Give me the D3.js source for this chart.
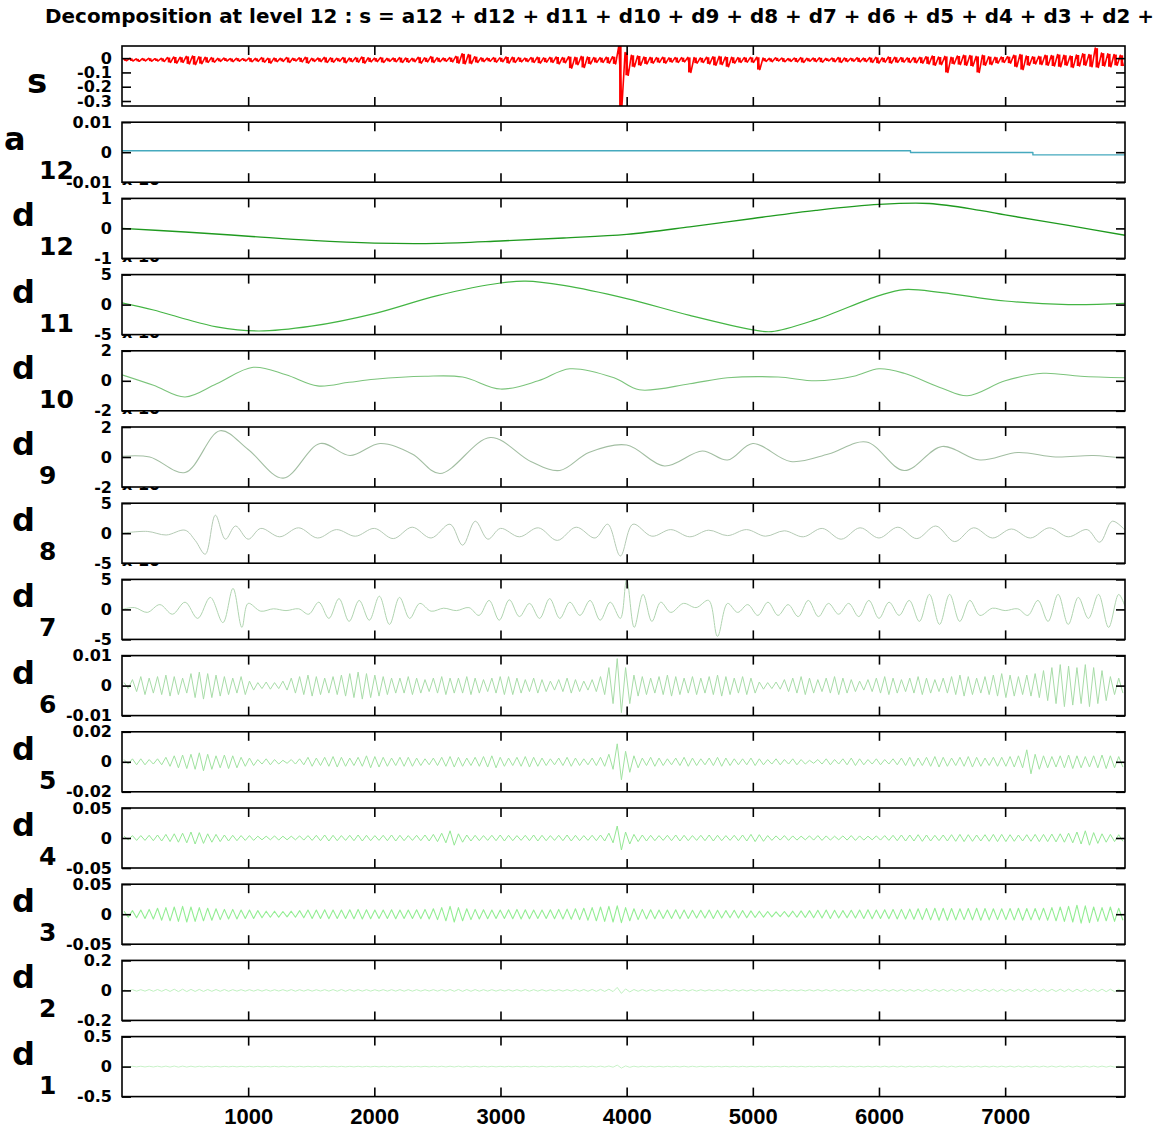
<!DOCTYPE html>
<html>
<head>
<meta charset="utf-8">
<script src="https://cdn.jsdelivr.net/npm/d3@7"></script>
<style>
  html, body { margin: 0; padding: 0; background: #ffffff; }
  svg { display: block; }
</style>
</head>
<body>
<svg id="chart" width="1154" height="1134"></svg>
<script>
// ---- data -------------------------------------------------------------
const titleText = "Decomposition at level 12 : s = a12 + d12 + d11 + d10 + d9 + d8 + d7 + d6 + d5 + d4 + d3 + d2 + d1";
const xTicks = [1000, 2000, 3000, 4000, 5000, 6000, 7000];
const xExtent = [0, 7950];

// signal s : upper / lower envelope per bin (160 bins)
const sHi = [
  -0.004,-0.002,-0.005,-0.003,-0.001,-0.004,-0.002,
  0.004,0.008,0.006,0.012,0.015,0.01,0.006,0.003,
  -0.002,0.0,-0.003,-0.001,-0.004,0.0,-0.002,
  0.003,-0.001,0.0,
  -0.002,0.004,-0.001,0.002,0.006,-0.002,0.0,0.005,0.002,-0.001,0.004,0.0,
  0.003,0.008,0.002,0.0,0.004,-0.002,0.0,0.003,0.001,-0.002,0.006,0.002,
  0.01,0.002,0.0,0.003,
  0.012,0.03,0.025,0.01,
  0.002,0.0,0.003,0.002,
  0.008,0.006,0.003,0.0,0.004,0.006,0.002,0.005,0.008,0.004,
  0.01,0.006,0.012,0.008,0.004,
  0.003,0.006,0.01,
  0.085,0.04,0.02,
  0.015,0.008,0.005,0.003,0.006,0.002,0.004,0.003,
  0.005,
  0.004,0.002,0.006,0.01,0.012,0.008,0.006,0.003,0.004,0.005,0.006,
  0.0,-0.002,0.002,0.0,-0.003,0.001,0.003,-0.001,0.0,0.002,-0.002,0.0,0.004,0.001,-0.001,0.002,0.0,0.003,0.005,0.002,
  0.008,0.006,0.004,0.002,0.004,0.006,
  0.01,0.015,0.008,0.012,0.006,
  0.015,0.02,0.018,0.012,0.02,0.01,
  0.006,0.008,0.01,
  0.02,0.025,0.015,
  0.01,0.012,
  0.02,0.018,0.025,0.02,0.015,0.022,0.03,0.025,0.07,0.035,0.03,0.025,0.02];
const sLo = [
  -0.018,-0.02,-0.022,-0.019,-0.021,-0.02,-0.023,
  -0.03,-0.035,-0.03,-0.04,-0.045,-0.038,-0.03,-0.028,
  -0.022,-0.02,-0.024,-0.021,-0.02,-0.025,-0.022,
  -0.028,-0.035,-0.024,
  -0.022,-0.03,-0.02,-0.026,-0.035,-0.022,-0.024,-0.03,-0.028,-0.022,-0.032,-0.025,
  -0.028,-0.035,-0.026,-0.024,-0.03,-0.022,-0.025,-0.03,-0.028,-0.024,-0.035,-0.026,
  -0.03,-0.025,-0.022,-0.026,
  -0.035,-0.04,-0.038,-0.03,
  -0.024,-0.022,-0.028,-0.025,
  -0.035,-0.03,-0.026,-0.024,-0.03,-0.035,-0.028,-0.03,-0.04,-0.032,
  -0.07,-0.045,-0.065,-0.04,-0.03,
  -0.03,-0.035,-0.04,
  -0.335,-0.12,-0.06,
  -0.05,-0.04,-0.035,-0.03,-0.035,-0.028,-0.03,-0.026,
  -0.1,
  -0.035,-0.03,-0.04,-0.05,-0.045,-0.06,-0.035,-0.03,-0.028,-0.03,-0.08,
  -0.022,-0.024,-0.02,-0.025,-0.022,-0.026,-0.03,-0.022,-0.024,-0.028,-0.02,-0.025,-0.03,-0.024,-0.022,-0.026,-0.024,-0.03,-0.035,-0.028,
  -0.035,-0.03,-0.028,-0.03,-0.032,-0.035,
  -0.04,-0.05,-0.045,-0.1,-0.04,
  -0.045,-0.05,-0.055,-0.1,-0.05,-0.045,
  -0.035,-0.03,-0.035,
  -0.06,-0.08,-0.05,
  -0.04,-0.045,
  -0.05,-0.055,-0.06,-0.05,-0.065,-0.055,-0.05,-0.06,-0.065,-0.055,-0.06,-0.05,-0.055];

// approximation a12 (step changes)
const a12X = [0, 6250, 7220, 7950];
const a12Y = [0.0005, -0.0001, -0.0009, -0.0009];

// smooth details d12 .. d9 (x 1e-3)
const d12X = [0,500,1000,1500,2000,2500,3000,3500,4000,4500,5000,5500,6000,6400,6800,7000,7500,7950];
const d12Y = [0.0,-0.12,-0.26,-0.4,-0.49,-0.5,-0.42,-0.32,-0.2,0.05,0.33,0.6,0.8,0.83,0.6,0.45,0.1,-0.23];

const d11X = [0,250,500,750,1080,1500,2000,2500,3000,3200,3500,4000,4500,5000,5150,5500,6000,6200,6500,7000,7500,7950];
const d11Y = [0.3,-0.9,-2.4,-3.7,-4.4,-3.6,-1.5,1.5,3.6,3.9,3.2,1.0,-1.8,-4.2,-4.5,-2.5,1.5,2.5,2.0,0.6,0.0,0.2];

const d10X = [0,250,500,750,1040,1300,1550,1800,2000,2400,2700,3000,3300,3550,3900,4100,4500,4800,5200,5500,5800,6000,6200,6500,6700,7000,7300,7600,7950];
const d10Y = [0.4,-0.3,-1.08,-0.2,0.9,0.4,-0.34,-0.1,0.1,0.3,0.25,-0.55,0.0,0.8,0.2,-0.6,-0.2,0.2,0.25,0.0,0.3,0.8,0.5,-0.5,-1.0,0.0,0.5,0.3,0.2];

const d9X = [0,220,500,777,1000,1277,1570,1808,2046,2300,2520,2920,3240,3470,3700,4000,4300,4600,4800,5000,5300,5600,5900,6200,6500,6800,7100,7400,7700,7950];
const d9Y = [0.05,0.0,-1.03,1.75,0.5,-1.41,0.9,0.1,0.9,0.2,-1.1,1.3,-0.3,-0.9,0.3,0.8,-0.6,0.4,-0.2,0.9,-0.3,0.2,1.0,-0.9,0.7,-0.2,0.3,0.0,0.1,-0.1];

// oscillating details d8, d7 (x 1e-3): successive extrema
const d8X = [0,200,350,500,580,660,740,820,900,1000,1100,1250,1400,1550,1700,1850,2000,2150,2300,2450,2600,2700,2800,2900,3000,3150,3300,3450,3600,3750,3850,3950,4050,4200,4350,4500,4650,4800,4950,5100,5250,5400,5550,5700,5850,6000,6150,6300,6450,6600,6750,6900,7050,7200,7350,7500,7650,7750,7850,7950];
const d8Y = [0,0.3,-0.3,0.5,-1.2,-3.5,3.0,-1.0,1.2,-1.0,0.8,-0.6,0.9,-0.8,0.6,-0.5,0.8,-0.9,1.0,-0.8,1.5,-2.0,2.0,-1.0,0.8,-0.6,0.9,-1.2,1.0,-0.8,1.5,-3.8,1.5,-0.5,0.6,-0.6,0.5,-0.4,0.6,-0.5,0.4,-0.6,0.8,-1.0,0.9,-0.8,1.0,-0.9,1.2,-1.4,0.9,-0.8,0.7,-0.8,0.9,-0.6,0.6,-1.5,2.0,0.5];

const d7X = [0,100,200,300,400,500,600,700,800,880,950,1000,
  1100,1200,1300,1400,
  1480,1560,1640,1720,1800,1880,1960,2040,2120,2200,2280,2360,
  2450,2550,2650,2750,
  2830,2910,2990,3070,3150,3230,3310,3390,3470,3550,3630,3710,3790,3870,
  3950,4000,4060,4130,4200,4270,
  4350,4450,4550,
  4650,4720,4800,4880,
  4960,5040,5120,5200,5280,5360,5440,5520,5600,5680,5760,5840,5920,6000,6080,6160,
  6240,6320,6400,6480,6560,6640,6720,6800,
  6900,7000,7100,
  7180,7260,7340,7420,7500,7580,7660,7740,7820,7900,7950];
const d7Y = [0,0.3,-0.5,0.8,-0.8,1.2,-1.5,2.0,-2.2,3.5,-3.0,1.0,
  -0.3,0.1,-0.2,0.1,
  -0.8,1.2,-1.5,1.8,-2.0,1.5,-1.8,2.2,-2.5,2.0,-1.5,1.0,
  -0.3,0.2,-0.2,0.3,
  -1.0,1.5,-1.8,1.6,-1.2,1.0,-1.5,1.8,-1.5,1.2,-1.0,1.5,-1.8,1.2,
  -1.5,5.0,-3.0,2.5,-2.0,1.2,
  -0.5,1.0,0.3,
  1.5,-4.5,1.0,-0.5,
  0.8,-1.0,1.2,-1.0,0.8,-1.2,1.5,-1.2,1.0,-0.8,1.0,-1.2,1.5,-1.5,1.2,-1.0,
  1.5,-2.0,2.5,-2.5,2.5,-2.0,1.5,-1.0,
  0.2,-0.2,0.1,
  -1.0,1.5,-2.0,2.5,-2.5,2.0,-1.5,2.5,-3.0,2.5,0.5];

// dense details d6 .. d1 : amplitude of the oscillation band per bin (120 bins)
const d6Amp = [
  0.001,0.002,0.003,0.0025,0.003,0.0035,0.003,0.0025,0.004,0.0045,0.004,0.0035,0.003,0.0025,0.003,
  0.0015,0.001,0.0012,0.001,0.0015,
  0.0025,0.003,0.0035,0.003,0.0025,0.003,0.0035,0.004,0.0045,0.004,0.0035,
  0.003,0.0025,0.0025,0.003,0.0025,0.002,0.0025,0.003,0.0025,0.0025,0.003,0.0025,0.002,0.0025,0.003,0.003,0.0025,0.002,0.0025,
  0.002,0.0015,0.002,0.0025,0.002,0.0015,0.002,0.003,
  0.006,0.009,0.006,
  0.0035,0.003,0.0025,0.003,0.0035,0.003,0.0025,0.003,0.0025,0.003,0.0035,0.003,0.0025,0.003,0.0025,
  0.0012,0.001,0.0012,
  0.002,0.0025,0.003,0.0025,0.002,0.0025,0.003,0.0025,0.002,0.0015,0.002,0.0025,0.003,0.0025,0.002,0.0025,0.003,0.0025,0.002,0.0025,
  0.003,0.0035,0.003,0.0025,0.003,0.0035,0.004,0.0035,0.003,0.0035,
  0.004,0.005,0.006,0.007,0.0065,0.006,0.007,0.006,0.005,
  0.003,0.0025];
const d5Amp = [
  0.0015,0.002,0.002,0.0015,0.002,
  0.003,0.004,0.0045,0.005,0.006,0.005,0.004,0.0045,0.004,0.003,0.0025,
  0.0015,0.002,0.0015,0.001,0.0015,0.002,
  0.003,0.0025,0.003,0.0035,0.003,0.0025,0.003,0.004,0.0035,0.003,0.0025,0.003,
  0.003,0.0025,0.002,0.0025,0.003,0.0035,0.003,0.0025,0.003,0.0035,0.004,0.003,0.0025,0.003,0.0035,0.003,0.0025,0.002,0.0025,0.003,0.0025,0.002,0.0025,0.003,
  0.005,0.012,0.007,0.004,
  0.0025,0.003,0.0025,0.002,0.0025,0.003,0.0025,0.002,0.0025,0.003,0.0025,0.002,0.002,0.0025,0.002,
  0.0015,0.002,0.0015,0.002,0.0015,0.001,0.0015,0.002,0.0015,0.002,0.0025,0.002,0.0015,0.002,0.0015,0.002,0.0025,
  0.003,0.0025,0.003,0.0035,0.003,0.0025,0.003,0.0035,0.003,0.0025,0.003,
  0.003,0.0035,0.004,
  0.008,0.005,
  0.004,0.0035,0.004,0.0045,0.004,0.0035,0.004,0.0045,0.004,0.0035];
const d4Amp = [
  0.003,0.004,0.004,0.0045,0.005,
  0.006,0.007,0.008,0.01,0.009,0.007,0.006,0.005,0.0045,0.004,0.004,
  0.003,0.003,0.0035,0.003,0.003,0.0035,
  0.004,0.0045,0.005,0.0045,0.004,0.0045,0.005,0.0045,0.004,0.0045,0.005,0.0045,
  0.004,0.0045,0.005,0.006,0.008,0.012,0.007,0.005,0.0045,0.004,0.0045,0.005,0.0045,0.004,0.0045,0.005,0.0045,0.004,0.0045,0.005,0.0045,0.004,0.0045,0.005,
  0.008,0.02,0.01,0.006,
  0.005,0.0045,0.004,0.0045,0.005,0.0045,0.004,0.0045,0.005,0.0045,0.004,0.0045,0.005,0.006,0.0055,
  0.004,0.0035,0.004,0.0035,0.003,0.0035,0.004,0.0035,0.003,0.0035,0.004,0.0035,0.003,0.0035,0.004,0.0045,0.005,
  0.005,0.0055,0.005,0.0045,0.005,0.0055,0.006,0.0055,0.005,0.0055,0.006,
  0.006,0.0055,0.005,0.0055,0.006,
  0.006,0.0065,0.007,0.008,0.01,0.012,0.009,0.007,0.006,0.0055];
const d3Amp = [
  0.005,0.006,0.007,0.008,0.01,
  0.011,0.012,0.013,0.012,0.011,0.01,0.009,0.008,0.008,0.007,0.007,
  0.006,0.005,0.005,0.0045,0.005,0.006,
  0.007,0.007,0.0075,0.007,0.007,0.0075,0.008,0.0075,0.007,0.007,0.0075,0.007,
  0.007,0.0075,0.008,0.009,0.011,0.013,0.011,0.009,0.008,0.0075,0.007,0.007,0.0075,0.008,0.0075,0.007,0.007,0.0075,0.008,0.0085,0.009,0.01,0.011,0.012,
  0.013,0.014,0.011,0.009,
  0.008,0.0075,0.007,0.007,0.0075,0.007,0.0065,0.0065,0.007,0.0065,0.006,0.0065,0.006,0.0055,0.005,
  0.0045,0.004,0.0045,0.005,0.0055,0.006,0.0065,0.007,0.0065,0.006,0.0065,0.007,0.0075,0.007,0.0075,0.008,0.008,
  0.0085,0.009,0.0095,0.01,0.01,0.0095,0.009,0.0095,0.01,0.0095,0.009,
  0.009,0.0095,0.01,0.0095,0.0095,
  0.01,0.011,0.012,0.013,0.015,0.014,0.012,0.011,0.012,0.01];
const d2Amp = [
  0.004,0.005,0.005,0.006,0.006,0.007,0.008,0.008,0.007,0.007,0.006,0.006,0.006,0.005,0.005,0.005,
  0.005,0.005,0.0045,0.005,0.0055,0.005,0.005,0.0045,0.005,0.0055,
  0.006,0.0055,0.005,0.005,0.0045,0.005,0.005,0.0055,0.005,0.005,
  0.0045,0.005,0.0055,0.006,0.0065,0.006,0.0055,0.005,0.005,0.0045,
  0.005,0.005,0.0055,0.005,0.005,0.0045,0.005,0.005,0.0055,0.006,
  0.0065,0.007,
  0.008,0.02,0.01,0.006,
  0.006,0.0055,0.005,0.005,0.0045,0.005,0.005,0.0045,0.004,0.0045,
  0.005,0.005,0.0045,0.005,0.0045,0.004,0.004,0.0045,0.004,0.004,
  0.0045,0.005,0.005,0.0055,0.005,0.005,0.0055,0.006,0.0055,0.006,
  0.006,0.0065,0.006,0.0065,0.007,0.0065,0.007,0.007,0.0075,0.007,
  0.007,0.0075,0.008,0.0075,0.007,0.0075,0.008,0.0085,0.008,0.0075,
  0.008,0.0085,0.008,0.0075,0.008,0.0085,0.008,0.0075];
const d1Amp = [
  0.005,0.005,0.006,0.006,0.007,0.008,0.009,0.008,0.007,0.006,0.006,0.006,0.005,0.005,0.005,0.005,
  0.005,0.005,0.005,0.0055,0.005,0.005,0.005,0.0055,0.005,0.005,
  0.005,0.005,0.0055,0.005,0.005,0.005,0.005,0.0055,0.005,0.005,
  0.005,0.005,0.006,0.0065,0.007,0.0065,0.006,0.0055,0.005,0.005,
  0.005,0.005,0.005,0.0055,0.005,0.005,0.005,0.0055,0.006,0.0065,
  0.007,0.008,
  0.01,0.025,0.012,0.007,
  0.006,0.006,0.0055,0.0055,0.006,0.0065,0.006,0.0055,0.005,0.005,
  0.005,0.005,0.005,0.005,0.005,0.005,0.005,0.005,0.005,0.005,
  0.005,0.005,0.0055,0.006,0.006,0.0055,0.0055,0.006,0.0065,0.007,
  0.007,0.0075,0.007,0.0065,0.007,0.0075,0.008,0.0075,0.007,0.0075,
  0.008,0.0075,0.007,0.0075,0.008,0.0085,0.008,0.0075,0.008,0.0085,
  0.009,0.0085,0.008,0.0085,0.009,0.0085,0.008,0.0085];

// y ticks and their labels for every row
const rowNames = ["s","a","d","d","d","d","d","d","d","d","d","d","d","d"];
const rowSubs  = ["","12","12","11","10","9","8","7","6","5","4","3","2","1"];
const rowTicks = [[0,-0.1,-0.2,-0.3],[0.01,0,-0.01],[1,0,-1],[5,0,-5],[2,0,-2],[2,0,-2],[5,0,-5],[5,0,-5],[0.01,0,-0.01],[0.02,0,-0.02],[0.05,0,-0.05],[0.05,0,-0.05],[0.2,0,-0.2],[0.5,0,-0.5]];
const rowTickLabels = [["0","-0.1","-0.2","-0.3"],["0.01","0","-0.01"],["1","0","-1"],["5","0","-5"],["2","0","-2"],["2","0","-2"],["5","0","-5"],["5","0","-5"],["0.01","0","-0.01"],["0.02","0","-0.02"],["0.05","0","-0.05"],["0.05","0","-0.05"],["0.2","0","-0.2"],["0.5","0","-0.5"]];
const rowDomains = [[-0.335,0.085],[-0.01,0.01],[-1,1],[-5,5],[-2,2],[-2,2],[-5,5],[-5,5],[-0.01,0.01],[-0.02,0.02],[-0.05,0.05],[-0.05,0.05],[-0.2,0.2],[-0.5,0.5]];
const rowColors = ["#ff0000","#45a9be","#1f9a1f","#44b544","#7cc47c","#a2bea2","#b4cab4","#b0d4b0","#a8dca8","#a0e2a0","#94e894","#94ee94","#c0f0c0","#c8f2c8"];
const scaledRows = [2,3,4,5,6,7]; // rows shown in units of 1e-3

// ---- layout -----------------------------------------------------------
const left = 122, right = 1125;
const firstTop = 46, rowStep = 76.2, rowH = 60;
const tickLen = 9;

const svg = d3.select("#chart");
const x = d3.scaleLinear().domain(xExtent).range([left, right]);

function pairs(xs, ys) { return xs.map((v, i) => [v, ys[i]]); }
// zig-zag through the upper and lower value of every bin
function envelope(hi, lo) {
  const bw = (xExtent[1] - xExtent[0]) / hi.length;
  const pts = [];
  hi.forEach((h, i) => {
    pts.push([xExtent[0] + (i + 0.25) * bw, h]);
    pts.push([xExtent[0] + (i + 0.75) * bw, lo[i]]);
  });
  return pts;
}
function band(amp) { return envelope(amp, amp.map(a => -a)); }

const rowData = [
  { pts: envelope(sHi, sLo), curve: d3.curveLinear, w: 1.6 },
  { pts: pairs(a12X, a12Y), curve: d3.curveStepAfter, w: 1.4 },
  { pts: pairs(d12X, d12Y), curve: d3.curveCatmullRom, w: 1.4 },
  { pts: pairs(d11X, d11Y), curve: d3.curveCatmullRom, w: 1.2 },
  { pts: pairs(d10X, d10Y), curve: d3.curveCatmullRom, w: 1.1 },
  { pts: pairs(d9X, d9Y), curve: d3.curveCatmullRom, w: 1.1 },
  { pts: pairs(d8X, d8Y), curve: d3.curveCatmullRom, w: 1 },
  { pts: pairs(d7X, d7Y), curve: d3.curveCatmullRom, w: 1 },
  { pts: band(d6Amp), curve: d3.curveLinear, w: 1 },
  { pts: band(d5Amp), curve: d3.curveLinear, w: 1 },
  { pts: band(d4Amp), curve: d3.curveLinear, w: 1 },
  { pts: band(d3Amp), curve: d3.curveLinear, w: 1.1 },
  { pts: band(d2Amp), curve: d3.curveLinear, w: 1 },
  { pts: band(d1Amp), curve: d3.curveLinear, w: 1 }
];

const defs = svg.append("defs");
const boldFont = "'DejaVu Sans', sans-serif";

// draw from the bottom row upwards so every box hides the overflow above the next one
for (let r = rowNames.length - 1; r >= 0; r--) {
  const top = firstTop + r * rowStep;
  const y = d3.scaleLinear().domain(rowDomains[r]).range([top + rowH, top]);
  const g = svg.append("g");

  // exponent note above the scaled rows (mostly hidden by the row above)
  if (scaledRows.includes(r)) {
    const t = g.append("text").attr("x", left).attr("y", top - 13)
      .attr("font-family", boldFont).attr("font-weight", "bold").attr("font-size", 16).attr("fill", "#000");
    t.append("tspan").text("x 10");
    t.append("tspan").attr("dy", -7).attr("font-size", 12).text("-3");
  }

  g.append("rect").attr("x", left).attr("y", top).attr("width", right - left).attr("height", rowH)
    .attr("fill", "#fff");

  defs.append("clipPath").attr("id", "clip" + r)
    .append("rect").attr("x", left).attr("y", top).attr("width", right - left).attr("height", rowH);

  // the signal row is dense: a min-max stroke per bin fills the band
  if (r === 0) {
    const bw = (xExtent[1] - xExtent[0]) / sHi.length;
    g.append("g").attr("clip-path", `url(#clip${r})`)
      .selectAll("line").data(sHi).join("line")
      .attr("x1", (d, i) => x(xExtent[0] + (i + 0.5) * bw))
      .attr("x2", (d, i) => x(xExtent[0] + (i + 0.5) * bw))
      .attr("y1", d => y(d))
      .attr("y2", (d, i) => y(sLo[i]))
      .attr("stroke", rowColors[r]).attr("stroke-width", 2.6);
  }

  const line = d3.line().x(d => x(d[0])).y(d => y(d[1])).curve(rowData[r].curve);
  g.append("path").attr("clip-path", `url(#clip${r})`)
    .attr("d", line(rowData[r].pts))
    .attr("fill", "none").attr("stroke", rowColors[r]).attr("stroke-width", rowData[r].w)
    .attr("stroke-linejoin", "round");

  // axes (ticks point inwards)
  const isLast = r === rowNames.length - 1;
  const axB = d3.axisBottom(x).tickValues(xTicks).tickSizeInner(-tickLen).tickSizeOuter(0).tickPadding(12)
    .tickFormat(isLast ? d3.format("d") : () => "");
  const axT = d3.axisTop(x).tickValues(xTicks).tickSizeInner(-tickLen).tickSizeOuter(0).tickFormat(() => "");
  const axL = d3.axisLeft(y).tickValues(rowTicks[r]).tickSizeInner(-tickLen).tickSizeOuter(0).tickPadding(10)
    .tickFormat((d, i) => rowTickLabels[r][i]);
  const axR = d3.axisRight(y).tickValues(rowTicks[r]).tickSizeInner(-tickLen).tickSizeOuter(0).tickFormat(() => "");

  const gb = g.append("g").attr("transform", `translate(0,${top + rowH})`).call(axB);
  const gt = g.append("g").attr("transform", `translate(0,${top})`).call(axT);
  const gl = g.append("g").attr("transform", `translate(${left},0)`).call(axL);
  const gr = g.append("g").attr("transform", `translate(${right},0)`).call(axR);
  [gb, gt, gl, gr].forEach(a => {
    a.select(".domain").remove();
    a.selectAll(".tick line").attr("stroke", "#000").attr("stroke-width", 1.6);
  });
  gl.selectAll("text").attr("font-family", boldFont).attr("font-weight", "bold").attr("font-size", 16).attr("fill", "#000");
  gb.selectAll("text").attr("font-family", "'Liberation Sans', Arial, sans-serif").attr("font-weight", "bold")
    .attr("font-size", 22).attr("fill", "#000");

  g.append("rect").attr("x", left).attr("y", top).attr("width", right - left).attr("height", rowH)
    .attr("fill", "none").attr("stroke", "#000").attr("stroke-width", 1.6);

  // row label, e.g. d with subscript 12
  const cy = top + rowH / 2;
  if (rowSubs[r] === "") {
    g.append("text").attr("x", 27).attr("y", cy + 17).text(rowNames[r])
      .attr("font-family", boldFont).attr("font-weight", "bold").attr("font-size", 34);
  } else {
    g.append("text").attr("x", rowNames[r] === "a" ? 4 : 12).attr("y", cy - 2).text(rowNames[r])
      .attr("font-family", boldFont).attr("font-weight", "bold").attr("font-size", 32);
    g.append("text").attr("x", 39).attr("y", cy + 27).text(rowSubs[r])
      .attr("font-family", boldFont).attr("font-weight", "bold").attr("font-size", 25);
  }
}

// title, stretched to the figure width
const title = svg.append("text").attr("x", 45).attr("y", 23).text(titleText)
  .attr("font-family", boldFont).attr("font-weight", "bold").attr("font-size", 19).attr("fill", "#000");
const probe = svg.append("text").attr("font-family", boldFont).attr("font-weight", "bold").attr("font-size", 19)
  .text(titleText.slice(0, titleText.lastIndexOf("+") + 1));
const k = 1109 / probe.node().getComputedTextLength();
probe.remove();
title.attr("textLength", title.node().getComputedTextLength() * k).attr("lengthAdjust", "spacingAndGlyphs");
</script>
</body>
</html>
